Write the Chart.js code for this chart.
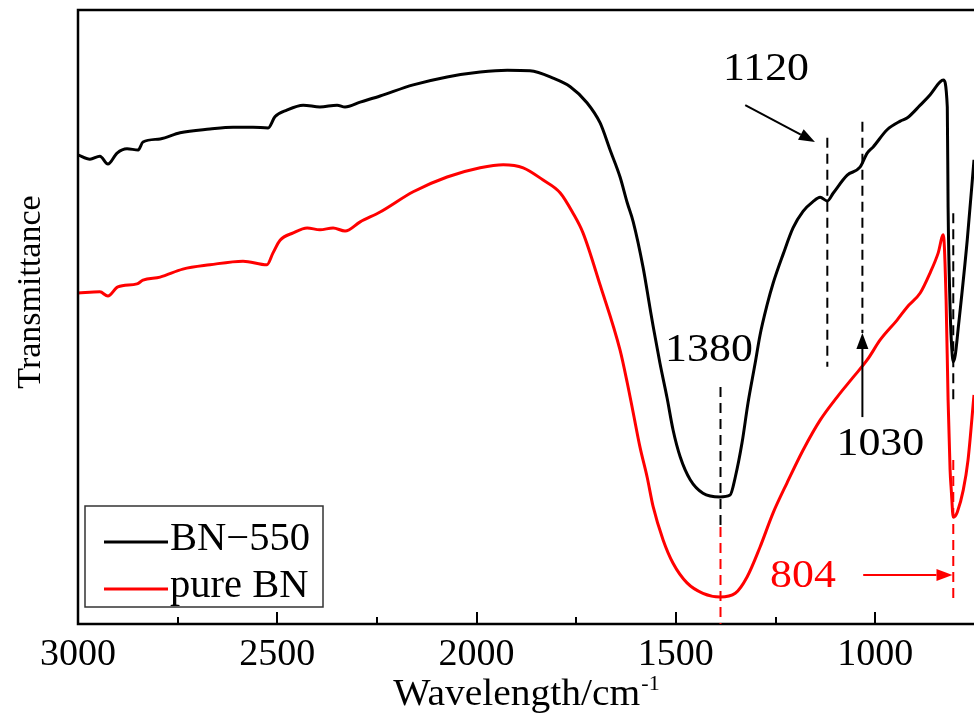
<!DOCTYPE html>
<html>
<head>
<meta charset="utf-8">
<title>FTIR BN-550 / pure BN</title>
<script src="https://cdn.jsdelivr.net/npm/chart.js@4.4.1/dist/chart.umd.min.js"></script>
<style>
  html, body { margin: 0; padding: 0; background: #fff; }
  canvas { display: block; }
</style>
</head>
<body>
<canvas id="ftirChart" width="974" height="720"></canvas>
<script>
// wavenumber (cm-1) and transmittance (a.u.)
var wnBN550 = [3000, 2970, 2945, 2925, 2902, 2877, 2849, 2837, 2794, 2744, 2669, 2611, 2561, 2523, 2506, 2476,
    2435, 2393, 2350, 2330, 2292, 2242, 2159, 2074, 1991, 1923, 1866, 1808, 1765, 1723, 1690, 1665, 1640, 1622,
    1607, 1582, 1565, 1557, 1540, 1522, 1507, 1489, 1464, 1432, 1389, 1364, 1351, 1334, 1319, 1301, 1289, 1271,
    1256, 1231, 1206, 1181, 1156, 1138, 1120, 1105, 1070, 1038, 1020, 1005, 970, 937, 920, 887, 862, 837, 829,
    819, 817, 812, 809, 804, 799, 792, 769, 752];
var tBN550 = [76.4, 75.7, 76.2, 74.9, 76.7, 77.4, 77.2, 78.5, 79.0, 80.0, 80.6, 80.9, 80.9, 80.8, 82.6, 83.7,
    84.5, 84.2, 84.5, 84.2, 85.0, 86.0, 87.8, 89.1, 89.9, 90.2, 90.1, 88.9, 87.5, 84.9, 81.6, 77.2, 72.8, 68.6,
    65.5, 58.0, 51.5, 48.5, 42.5, 36.8, 31.6, 27.2, 23.5, 21.3, 20.7, 21.0, 23.9, 29.5, 36.0, 42.5, 47.0, 52.0,
    55.5, 60.2, 64.5, 67.2, 68.8, 69.5, 68.9, 70.2, 73.1, 74.4, 76.7, 77.7, 80.5, 81.9, 82.4, 84.5, 86.2, 88.3, 88.6,
    84.2, 67.9, 51.6, 46.3, 42.7, 43.8, 47.9, 62.5, 75.6];

var wnPureBN = [3000, 2945, 2925, 2900, 2852, 2837, 2794, 2737, 2669, 2586, 2526, 2511, 2493, 2460, 2425, 2393,
    2360, 2330, 2292, 2242, 2159, 2074, 1991, 1933, 1883, 1833, 1790, 1758, 1733, 1690, 1640, 1622, 1607, 1590,
    1572, 1557, 1532, 1507, 1472, 1432, 1389, 1351, 1321, 1289, 1256, 1221, 1181, 1138, 1095, 1055, 1020, 987,
    945, 920, 887, 862, 842, 829, 822, 817, 812, 809, 804, 799, 794, 779, 767, 752];
var tPureBN = [53.9, 54.1, 53.4, 54.9, 55.4, 56.0, 56.5, 57.8, 58.5, 59.1, 58.5, 60.4, 62.5, 63.7, 64.5, 64.2,
    64.5, 64.0, 65.5, 67.1, 70.4, 72.8, 74.3, 74.8, 74.3, 72.3, 70.2, 66.9, 63.7, 55.2, 44.6, 39.3, 34.4, 28.8,
    23.9, 19.1, 13.7, 9.9, 6.7, 5.0, 4.4, 5.0, 7.7, 12.5, 18.1, 23.0, 28.3, 33.2, 37.0, 40.2, 43.0, 46.3,
    49.5, 51.6, 53.9, 57.2, 60.4, 63.4, 52.8, 36.5, 25.1, 21.8, 17.4, 17.6, 18.2, 21.8, 26.7, 37.3];

var seriesLabels = ['BN\u2212550', 'pure BN'];
var xTicks = [3000, 2500, 2000, 1500, 1000];
var xMinorTicks = [2750, 2250, 1750, 1250];

// peak marks (dashed guides, arrows, labels) in data coordinates
var peakLines = [
    { wn: 1388, from: 38.6, to: 15.8, color: '#000' },
    { wn: 1388, from: 15.8, to: 0, color: '#ff0000' },
    { wn: 1120, from: 79.2, to: 41.9, color: '#000' },
    { wn: 1032, from: 81.8, to: 47.4, color: '#000' },
    { wn: 804, from: 66.9, to: 36.5, color: '#000' },
    { wn: 804, from: 26.7, to: 4.2, color: '#ff0000' }
];
var peakArrows = [
    { wn0: 1326, t0: 84.5, wn1: 1151, t1: 78.5, color: '#000' },
    { wn0: 1032, t0: 33.7, wn1: 1032, t1: 47.4, color: '#000' },
    { wn0: 1030, t0: 8.0, wn1: 806, t1: 8.0, color: '#ff0000' }
];
var peakLabels = [
    { text: '1120', wn: 1274, t: 90.4, color: '#000' },
    { text: '1380', wn: 1417, t: 44.6, color: '#000' },
    { text: '1030', wn: 987, t: 29.3, color: '#000' },
    { text: '804', wn: 1181, t: 7.8, color: '#ff0000' }
];

var serif = "'Liberation Serif', 'Times New Roman', serif";
var seriesColors = ['#000000', '#ff0000'];

function toPoints(xs, ys) {
    var pts = [];
    for (var i = 0; i < xs.length; i++) pts.push({ x: xs[i], y: ys[i] });
    return pts;
}

function arrow(c, x0, y0, x1, y1, color) {
    var ang = Math.atan2(y1 - y0, x1 - x0);
    var len = 16, half = 6;
    var bx = x1 - len * Math.cos(ang), by = y1 - len * Math.sin(ang);
    c.strokeStyle = color; c.fillStyle = color; c.lineWidth = 2; c.setLineDash([]);
    c.beginPath(); c.moveTo(x0, y0); c.lineTo(bx, by); c.stroke();
    c.beginPath();
    c.moveTo(x1, y1);
    c.lineTo(bx + half * Math.sin(ang), by - half * Math.cos(ang));
    c.lineTo(bx - half * Math.sin(ang), by + half * Math.cos(ang));
    c.closePath(); c.fill();
}

// text a bit wider than the font, like the original figure
function wideText(c, text, x, y, stretch) {
    c.save();
    c.translate(x, y);
    c.scale(stretch, 1);
    c.fillText(text, 0, 0);
    c.restore();
}

var decorations = {
    id: 'decorations',
    afterDraw: function (chart) {
        var c = chart.ctx, xs = chart.scales.x, ys = chart.scales.y, a = chart.chartArea;
        c.save();

        // frame: top, left, bottom
        c.strokeStyle = '#000'; c.lineWidth = 2.5;
        c.beginPath();
        c.moveTo(a.right, a.top); c.lineTo(a.left, a.top);
        c.lineTo(a.left, a.bottom); c.lineTo(a.right, a.bottom);
        c.stroke();

        // inward ticks
        c.lineWidth = 2;
        c.beginPath();
        xTicks.forEach(function (v) {
            var px = Math.round(xs.getPixelForValue(v));
            c.moveTo(px, a.bottom); c.lineTo(px, a.bottom - 12);
        });
        xMinorTicks.forEach(function (v) {
            var px = Math.round(xs.getPixelForValue(v));
            c.moveTo(px, a.bottom); c.lineTo(px, a.bottom - 7);
        });
        c.stroke();

        // dashed guides
        c.lineWidth = 2;
        c.setLineDash([10, 6]);
        peakLines.forEach(function (l) {
            var px = xs.getPixelForValue(l.wn);
            c.strokeStyle = l.color;
            c.beginPath();
            c.moveTo(px, ys.getPixelForValue(l.from));
            c.lineTo(px, ys.getPixelForValue(l.to));
            c.stroke();
        });
        c.setLineDash([]);

        peakArrows.forEach(function (p) {
            arrow(c, xs.getPixelForValue(p.wn0), ys.getPixelForValue(p.t0),
                xs.getPixelForValue(p.wn1), ys.getPixelForValue(p.t1), p.color);
        });

        c.font = '41px ' + serif;
        c.textAlign = 'center'; c.textBaseline = 'middle';
        peakLabels.forEach(function (p) {
            c.fillStyle = p.color;
            wideText(c, p.text, xs.getPixelForValue(p.wn), ys.getPixelForValue(p.t), 1.07);
        });

        // legend box
        var lx = 85, ly = 506, lw = 238, lh = 101;
        c.fillStyle = '#fff'; c.fillRect(lx, ly, lw, lh);
        c.strokeStyle = '#333'; c.lineWidth = 1.5;
        c.strokeRect(lx, ly, lw, lh);
        c.font = '39px ' + serif;
        c.textAlign = 'left'; c.textBaseline = 'alphabetic';
        chart.data.datasets.forEach(function (ds, i) {
            var yy = 542 + i * 47;
            c.strokeStyle = ds.borderColor; c.lineWidth = 3;
            c.beginPath(); c.moveTo(104, yy); c.lineTo(168, yy); c.stroke();
            c.fillStyle = '#000';
            wideText(c, ds.label, 170, yy + 8, 1.04);
        });

        // axis titles
        c.fillStyle = '#000';
        c.font = '38px ' + serif;
        var main = 'Wavelength/cm', sup = '-1';
        var wMain = c.measureText(main).width * 1.04;
        c.font = '22px ' + serif;
        var wSup = c.measureText(sup).width;
        var x0 = (a.left + a.right) / 2 - (wMain + wSup) / 2;
        c.font = '38px ' + serif;
        wideText(c, main, x0, 705, 1.04);
        c.font = '22px ' + serif;
        c.fillText(sup, x0 + wMain + 1, 690);

        c.save();
        c.translate(31, 292);
        c.rotate(-Math.PI / 2);
        c.font = '34px ' + serif;
        c.textAlign = 'center'; c.textBaseline = 'middle';
        c.fillText('Transmittance', 0, 0);
        c.restore();

        c.restore();
    }
};

var ctx = document.getElementById('ftirChart').getContext('2d');
var chart = new Chart(ctx, {
    type: 'line',
    data: {
        datasets: [
            {
                label: seriesLabels[0],
                data: toPoints(wnBN550, tBN550),
                borderColor: seriesColors[0],
                borderWidth: 3,
                pointRadius: 0,
                cubicInterpolationMode: 'monotone',
                fill: false
            },
            {
                label: seriesLabels[1],
                data: toPoints(wnPureBN, tPureBN),
                borderColor: seriesColors[1],
                borderWidth: 3,
                pointRadius: 0,
                cubicInterpolationMode: 'monotone',
                fill: false
            }
        ]
    },
    options: {
        responsive: false,
        animation: false,
        layout: { padding: { left: 78, top: 10, right: 0, bottom: 0 } },
        plugins: {
            legend: { display: false },
            tooltip: { enabled: false }
        },
        scales: {
            x: {
                type: 'linear',
                reverse: true,
                min: 752,
                max: 3000,
                afterBuildTicks: function (s) { s.ticks = xTicks.map(function (v) { return { value: v }; }); },
                afterFit: function (s) { s.height = 96; },
                grid: { display: false, drawTicks: false },
                border: { display: false },
                ticks: {
                    autoSkip: false,
                    maxRotation: 0,
                    padding: 8,
                    color: '#000',
                    font: { family: serif, size: 38 },
                    callback: function (v) { return String(v); }
                }
            },
            y: {
                display: false,
                min: 0,
                max: 100
            }
        }
    },
    plugins: [decorations]
});
</script>
</body>
</html>
